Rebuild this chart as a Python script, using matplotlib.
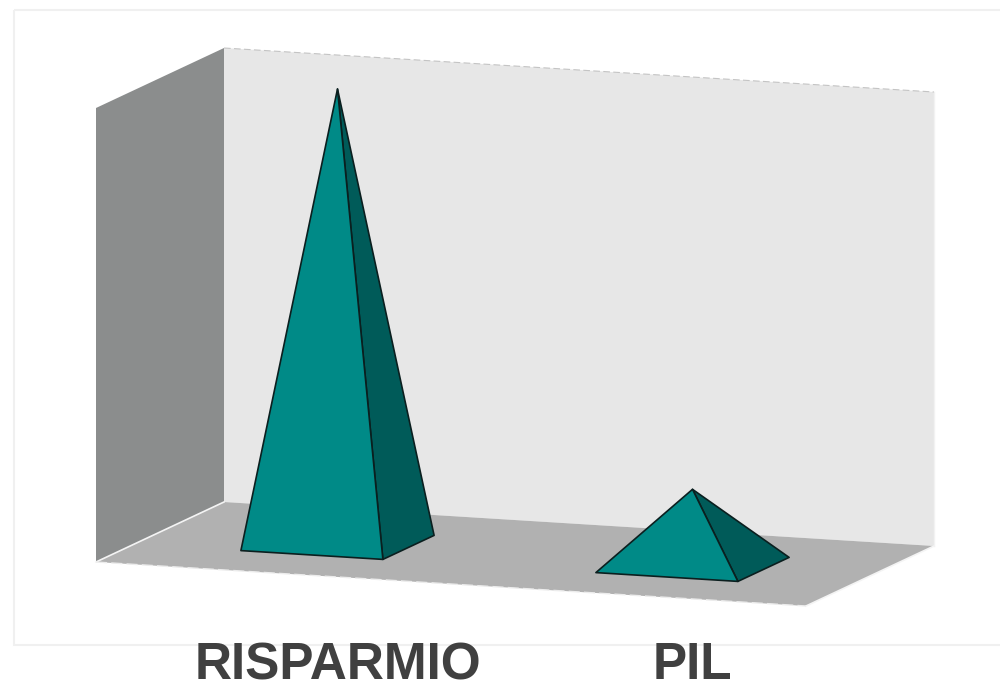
#!/usr/bin/env python3

import matplotlib
matplotlib.use("Agg")
import matplotlib.pyplot as plt
from matplotlib.patches import Polygon, Rectangle

categories = ["RISPARMIO", "PIL"]
values = [6.0, 1.0]
zmax = 6.0

# oblique projection of the 3D box onto the canvas (pixel-like units)
ORIGIN = (224.0, 502.0)     # back-left corner of the floor
XVEC = (710.0, 44.0)        # along the category axis
DVEC = (-128.0, 60.0)       # from back to front
HEIGHT = 454.0              # wall height for zmax

BACK_WALL = "#e7e7e7"
SIDE_WALL = "#8b8d8d"
FLOOR = "#b1b1b1"
FACE_FRONT = "#008a87"
FACE_SIDE = "#005b59"
TEXT = "#404040"


def proj(x, d, z):
    px = ORIGIN[0] + XVEC[0] * x + DVEC[0] * d
    py = ORIGIN[1] + XVEC[1] * x + DVEC[1] * d - HEIGHT * z / zmax
    return (px, py)


fig = plt.figure(figsize=(10, 6.81), dpi=100)
ax = fig.add_axes([0, 0, 1, 1])
ax.set_xlim(0, 1000)
ax.set_ylim(681, 0)
ax.axis("off")

# faint outer frame
ax.add_patch(Rectangle((14, 10), 1000, 635, fill=False, edgecolor="#f0f0f0", linewidth=1.5))

# walls and floor
back = [proj(0, 0, 0), proj(1, 0, 0), proj(1, 0, zmax), proj(0, 0, zmax)]
side = [proj(0, 0, 0), proj(0, 1, 0), proj(0, 1, zmax), proj(0, 0, zmax)]
floor = [proj(0, 0, 0), proj(1, 0, 0), proj(1, 1, 0), proj(0, 1, 0)]
ax.add_patch(Polygon(back, closed=True, facecolor=BACK_WALL, edgecolor="none", zorder=1))
ax.add_patch(Polygon(side, closed=True, facecolor=SIDE_WALL, edgecolor="none", zorder=1))
ax.add_patch(Polygon(floor, closed=True, facecolor=FLOOR, edgecolor="none", zorder=2))

# edge highlights of the box
tl, tr = proj(0, 0, zmax), proj(1, 0, zmax)
ax.plot([tl[0], tr[0]], [tl[1], tr[1]], color="#c4c4c4", lw=0.8, ls=(0, (6, 3)), zorder=3)
br_bot = proj(1, 0, 0)
ax.plot([tr[0], br_bot[0]], [tr[1], br_bot[1]], color="#f2f2f2", lw=1.0, zorder=3)
for a, b in [((0, 0), (0, 1)), ((1, 0), (1, 1))]:
    p, q = proj(a[0], a[1], 0), proj(b[0], b[1], 0)
    ax.plot([p[0], q[0]], [p[1], q[1]], color="#f4f4f4", lw=1.2, zorder=3)
p, q = proj(0, 1, 0), proj(1, 1, 0)
ax.plot([p[0], q[0]], [p[1], q[1]], color="#ececec", lw=1.0, ls=(0, (8, 3)), zorder=3)

# pyramids
n = len(categories)
half_w = 0.1
d0, d1 = 0.3, 0.7
for i, (cat, val) in enumerate(zip(categories, values)):
    xc = (i + 0.5) / n
    fl = proj(xc - half_w, d1, 0)
    fr = proj(xc + half_w, d1, 0)
    bl = proj(xc - half_w, d0, 0)
    brp = proj(xc + half_w, d0, 0)
    apex = proj(xc, 0.5, val)
    kw = dict(closed=True, edgecolor="#0b1f1f", linewidth=1.2, joinstyle="round", zorder=5)
    ax.add_patch(Polygon([fr, brp, apex], facecolor=FACE_SIDE, **kw))
    ax.add_patch(Polygon([fl, fr, apex], facecolor=FACE_FRONT, **kw))

    lx = proj(xc, 0.5, 0)[0]
    ax.text(lx, 679, cat, ha="center", va="baseline", fontsize=37,
            fontweight="bold", family="Liberation Sans", color=TEXT, zorder=6)

fig.savefig("out.png", dpi=100)
